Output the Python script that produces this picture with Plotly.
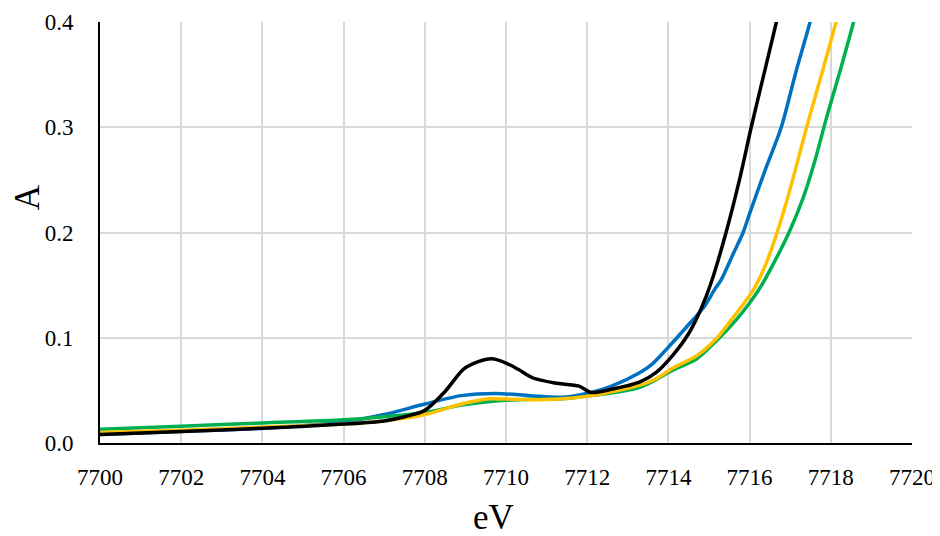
import plotly.graph_objects as go

# Energies (eV) and absorbance (A)
black_e = [7700, 7702, 7704, 7706, 7707, 7707.5, 7708, 7708.5, 7708.95, 7709.3, 7709.65, 7710.0,
           7710.3, 7710.65, 7711.2, 7711.8, 7712.1, 7712.6, 7713.3, 7713.7, 7714.1, 7714.5,
           7714.8, 7715.05, 7715.42, 7715.75, 7716.04, 7716.35, 7716.66, 7716.72]
black_a = [0.008, 0.011, 0.014, 0.018, 0.021, 0.025, 0.031, 0.049, 0.070, 0.077, 0.080, 0.076,
           0.070, 0.062, 0.057, 0.054, 0.048, 0.051, 0.058, 0.067, 0.083, 0.104,
           0.127, 0.152, 0.200, 0.250, 0.300, 0.350, 0.400, 0.41]

blue_e = [7700, 7702, 7704, 7706, 7707, 7708, 7708.9, 7709.75, 7710.6, 7711.4, 7712.1, 7712.6,
          7713.3, 7713.6, 7713.95, 7714.44, 7714.89, 7715.14, 7715.3, 7715.6, 7715.84, 7716.0,
          7716.39, 7716.78, 7717.15, 7717.49, 7717.55]
blue_a = [0.008, 0.011, 0.014, 0.020, 0.027, 0.037, 0.045, 0.047, 0.045, 0.0435, 0.048, 0.054,
          0.067, 0.075, 0.089, 0.110, 0.130, 0.146, 0.155, 0.180, 0.200, 0.218,
          0.260, 0.300, 0.354, 0.400, 0.41]

yellow_e = [7700, 7702, 7704, 7706, 7707, 7708, 7708.9, 7709.6, 7710.6, 7711.4, 7712.1, 7713.3,
            7713.7, 7714.1, 7714.7, 7715.18, 7715.45, 7715.75, 7716.1, 7716.4, 7716.66, 7716.9,
            7717.13, 7717.39, 7717.8, 7718.13, 7718.2]
yellow_a = [0.010, 0.012, 0.015, 0.018, 0.021, 0.027, 0.037, 0.042, 0.041, 0.042, 0.045, 0.055,
            0.061, 0.071, 0.083, 0.099, 0.112, 0.127, 0.146, 0.170, 0.198, 0.228,
            0.260, 0.298, 0.354, 0.400, 0.41]

green_e = [7700, 7702, 7704, 7706, 7707, 7708, 7708.9, 7709.75, 7710.6, 7711.4, 7712.1, 7713.3,
           7714.1, 7714.7, 7715.18, 7715.67, 7716.0, 7716.25, 7716.5, 7716.97, 7717.31, 7717.6,
           7717.88, 7718.21, 7718.56, 7718.62]
green_a = [0.013, 0.016, 0.019, 0.022, 0.025, 0.029, 0.036, 0.040, 0.0415, 0.042, 0.045, 0.053,
           0.069, 0.080, 0.097, 0.117, 0.133, 0.147, 0.164, 0.200, 0.232, 0.267,
           0.307, 0.351, 0.400, 0.41]

series = [
    ("blue", blue_e, blue_a, "#0070C0"),
    ("green", green_e, green_a, "#00B050"),
    ("yellow", yellow_e, yellow_a, "#FFC000"),
    ("black", black_e, black_a, "#000000"),
]

fig = go.Figure()
for name, e, a, col in series:
    fig.add_trace(go.Scatter(x=e, y=a, mode="lines", name=name,
                             line=dict(color=col, width=3.5, shape="spline", smoothing=0.8)))

font = "Liberation Serif"
# page body adds an 8px offset, so the figure is 932x528
fig.update_layout(
    width=932, height=528,
    margin=dict(l=92, r=28, t=14, b=93),
    paper_bgcolor="white", plot_bgcolor="white",
    showlegend=False,
    font=dict(family=font, color="black", size=23),
    xaxis=dict(range=[7700, 7720], dtick=2, tick0=7700, showgrid=True,
               gridcolor="#d9d9d9", gridwidth=1.5, zeroline=False,
               showline=True, linecolor="black", linewidth=2,
               ticks="", ticklabelstandoff=12, automargin=False,
               ticklabeloverflow="allow",
               tickfont=dict(family=font, size=23, color="black")),
    yaxis=dict(range=[0, 0.4], dtick=0.1, tick0=0, tickformat=".1f", showgrid=True,
               gridcolor="#d9d9d9", gridwidth=1.5, zeroline=False,
               showline=True, linecolor="black", linewidth=2,
               ticks="", ticklabelstandoff=20, automargin=False,
               ticklabeloverflow="allow",
               tickfont=dict(family=font, size=23, color="black")),
    annotations=[
        dict(text="eV", xref="paper", yref="paper", x=0.485, y=0, xanchor="center",
             yanchor="middle", yshift=-74, showarrow=False,
             font=dict(family=font, size=35, color="black")),
        dict(text="A", xref="paper", yref="paper", x=0, y=0.584, xanchor="center",
             yanchor="middle", xshift=-73, textangle=-90, showarrow=False,
             font=dict(family=font, size=35, color="black")),
    ],
)

fig.write_html("out.html")
